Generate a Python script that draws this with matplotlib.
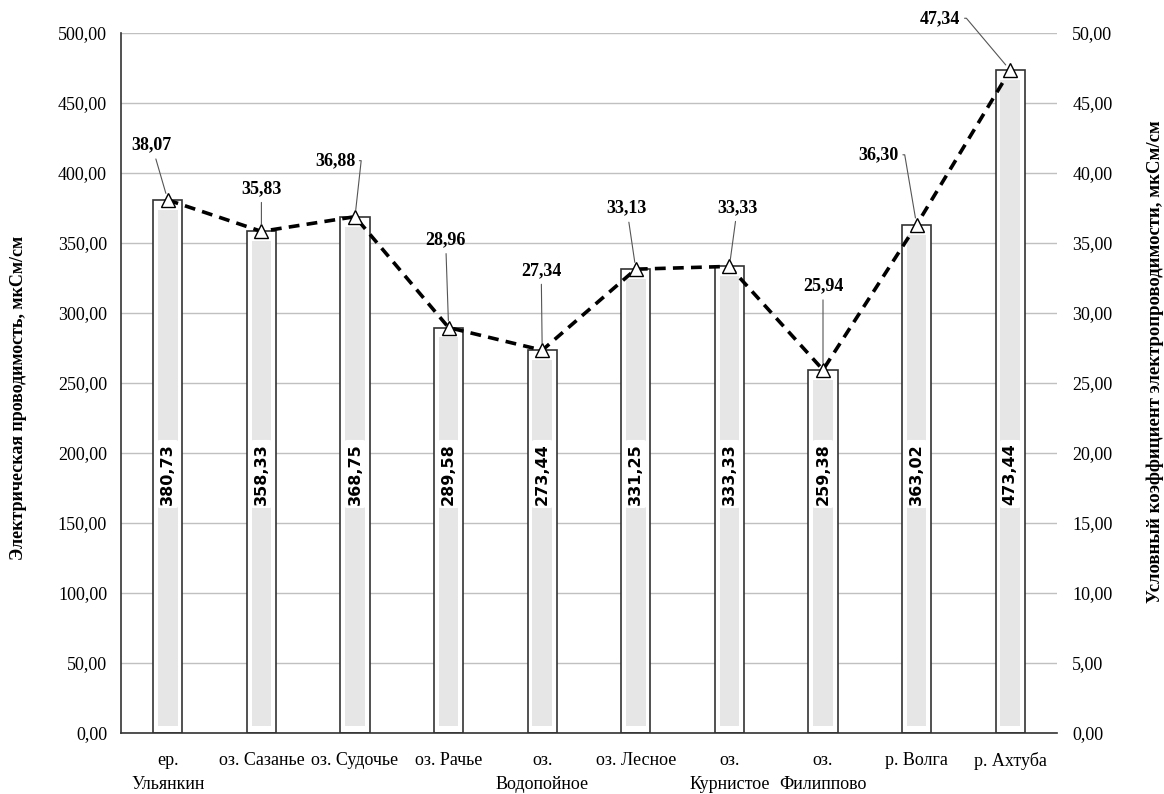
import matplotlib
matplotlib.use("Agg")
import matplotlib.pyplot as plt
import numpy as np

categories = ["ер.\nУльянкин", "оз. Сазанье", "оз. Судочье", "оз. Рачье", "оз.\nВодопойное",
              "оз. Лесное", "оз.\nКурнистое", "оз.\nФилиппово", "р. Волга", "р. Ахтуба"]
conductivity = [380.73, 358.33, 368.75, 289.58, 273.44, 331.25, 333.33, 259.38, 363.02, 473.44]
coefficient = [38.07, 35.83, 36.88, 28.96, 27.34, 33.13, 33.33, 25.94, 36.30, 47.34]
left_ticks = [0, 50, 100, 150, 200, 250, 300, 350, 400, 450, 500]
right_ticks = [0, 5, 10, 15, 20, 25, 30, 35, 40, 45, 50]

# label offsets (pixels) from each triangle, and whether the leader has an elbow
label_offsets = [(-16, 55), (0, 43), (-20, 56), (-3, 88), (-1, 80),
                 (-9, 61), (8, 59), (0, 84), (-38, 70), (-70, 52)]
elbow = [False, False, True, False, False, False, False, False, True, True]


def comma(v):
    return f"{v:.2f}".replace(".", ",")


serif = "Liberation Serif"
fig = plt.figure(figsize=(11.64, 7.94), dpi=100)
ax = fig.add_axes([121 / 1164, 1 - 733 / 794, 936 / 1164, 700 / 794])
ax2 = ax.twinx()

x = np.arange(len(categories))
ax.set_xlim(-0.5, len(categories) - 0.5)
ax.set_ylim(0, 500)
ax2.set_ylim(0, 50)

ax.set_axisbelow(True)
ax.yaxis.grid(True, color="#c0c0c0", lw=1.0)
ax.bar(x, conductivity, width=0.31, color="white", edgecolor="#333333", lw=1.2, zorder=2)
inner = [v - 12 for v in conductivity]
ax.bar(x, inner, bottom=5, width=0.21, color="#e6e6e6", lw=0, zorder=3)

for xi, v in zip(x, conductivity):
    ax.text(xi, 185, comma(v), rotation=90, ha="center", va="center",
            fontsize=11.5, fontweight="bold", family="DejaVu Sans", zorder=5,
            bbox=dict(boxstyle="round,pad=0.2", fc="white", ec="none"))

ax2.plot(x, coefficient, ls=(0, (3, 2)), color="black", lw=2.6, zorder=6,
         marker="^", markersize=10, markerfacecolor="white", markeredgecolor="black",
         markeredgewidth=1.0)

for xi, v, (dx, dy), el in zip(x, coefficient, label_offsets, elbow):
    if el:
        ap = dict(arrowstyle="-", color="#555555", lw=0.8, relpos=(1, 0.5),
                  shrinkA=1, shrinkB=5,
                  connectionstyle="arc,angleA=0,armA=6,angleB=90,armB=0,rad=0")
    else:
        ap = dict(arrowstyle="-", color="#555555", lw=0.8, shrinkA=2, shrinkB=5)
    ax2.annotate(comma(v), xy=(xi, v), xytext=(dx, dy), textcoords="offset pixels",
                 ha="center", va="center", fontsize=13, fontweight="bold",
                 family=serif, arrowprops=ap, zorder=7)

ax.set_yticks(left_ticks)
ax.set_yticklabels([comma(t) for t in left_ticks], family=serif, fontsize=13)
ax2.set_yticks(right_ticks)
ax2.set_yticklabels([comma(t) for t in right_ticks], family=serif, fontsize=13)
ax.set_xticks(x)
ax.set_xticklabels(categories, family=serif, fontsize=13, linespacing=1.5)
ax.tick_params(axis="x", length=0, pad=14)
ax.tick_params(axis="y", length=0, pad=10)
ax2.tick_params(axis="y", length=0, pad=11)

for a in (ax, ax2):
    a.spines["top"].set_visible(False)
    a.spines["right"].set_visible(False)
ax2.spines["left"].set_visible(False)
ax2.spines["bottom"].set_visible(False)
ax.spines["left"].set_color("#333333")
ax.spines["bottom"].set_color("#333333")
ax.spines["left"].set_linewidth(1.2)
ax.spines["bottom"].set_linewidth(1.2)

fig.text(19 / 1164, 1 - 398 / 794, "Электрическая проводимость, мкСм/см", rotation=90,
         ha="center", va="center", family=serif, fontweight="bold", fontsize=13)
fig.text(1155 / 1164, 1 - 362 / 794, "Условный коэффициент электропроводимости, мкСм/см",
         rotation=90, ha="center", va="center", family=serif, fontweight="bold", fontsize=13.5)

fig.savefig("out.png", dpi=100)
